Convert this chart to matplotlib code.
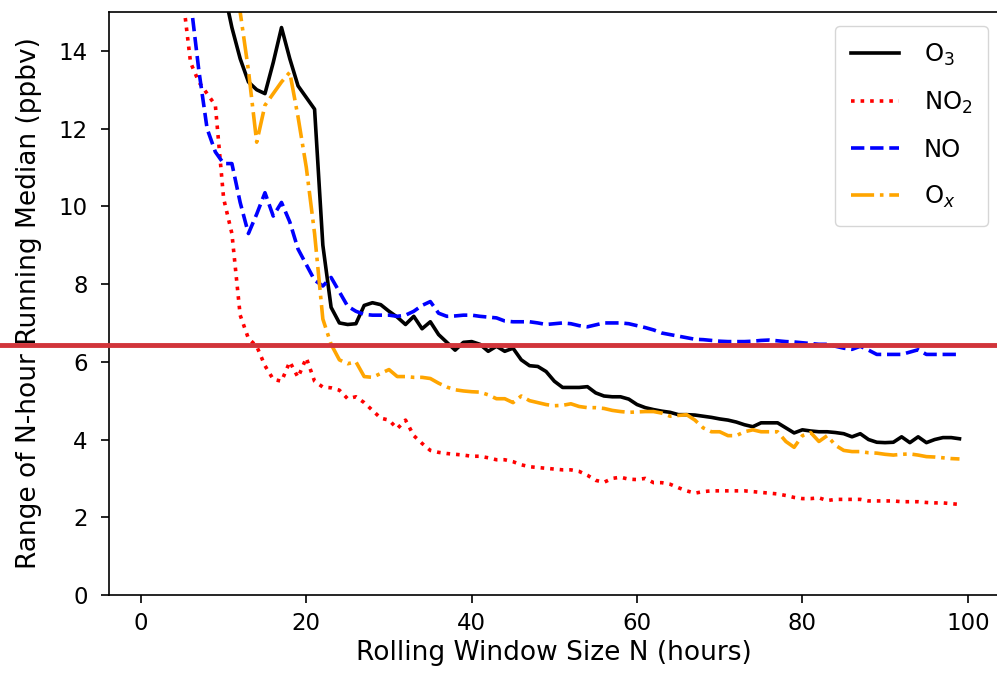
import matplotlib.pyplot as plt
from matplotlib.lines import Line2D

# rolling window sizes (hours)
window_n = list(range(1, 100))

o3 = [60, 45, 35, 28, 24, 21, 19, 17.5, 16.5, 15.6,
      14.6, 13.8, 13.2, 13.0, 12.9, 13.7, 14.6, 13.8, 13.1, 12.8,
      12.5, 9.0, 7.4, 7.0, 6.96, 6.98, 7.45, 7.52, 7.47, 7.3,
      7.15, 6.96, 7.17, 6.85, 7.03, 6.7, 6.5, 6.3, 6.5, 6.52,
      6.45, 6.27, 6.4, 6.27, 6.35, 6.05, 5.9, 5.88, 5.75, 5.5,
      5.34, 5.34, 5.34, 5.36, 5.2, 5.12, 5.1, 5.1, 5.04, 4.9,
      4.82, 4.77, 4.73, 4.7, 4.64, 4.64, 4.63, 4.6, 4.57, 4.53,
      4.5, 4.45, 4.38, 4.33, 4.43, 4.43, 4.43, 4.3, 4.17, 4.25,
      4.22, 4.2, 4.2, 4.18, 4.15, 4.07, 4.15, 4.0, 3.93, 3.92,
      3.93, 4.07, 3.92, 4.07, 3.92, 4.0, 4.05, 4.05, 4.02]

no2 = [40, 28, 21, 17.5, 15.5, 13.7, 13.2, 12.9, 12.6, 10.2,
       9.3, 7.2, 6.6, 6.4, 5.9, 5.55, 5.5, 6.0, 5.6, 6.1,
       5.5, 5.35, 5.33, 5.27, 5.05, 5.1, 4.95, 4.75, 4.55, 4.5,
       4.28, 4.5, 4.1, 3.9, 3.72, 3.67, 3.64, 3.62, 3.6, 3.57,
       3.57, 3.53, 3.48, 3.48, 3.43, 3.35, 3.3, 3.28, 3.26, 3.24,
       3.22, 3.22, 3.18, 3.08, 2.95, 2.9, 3.0, 3.03, 2.98, 2.97,
       3.0, 2.89, 2.89, 2.85, 2.76, 2.68, 2.62, 2.66, 2.68, 2.68,
       2.68, 2.68, 2.68, 2.66, 2.64, 2.62, 2.6, 2.56, 2.51, 2.48,
       2.48, 2.5, 2.43, 2.46, 2.46, 2.46, 2.46, 2.42, 2.42, 2.42,
       2.42, 2.4, 2.4, 2.4, 2.38, 2.37, 2.37, 2.35, 2.33]

no = [35, 27, 21, 18, 16.2, 15.3, 13.5, 12.0, 11.4, 11.1,
      11.1, 10.1, 9.3, 9.8, 10.35, 9.75, 10.1, 9.6, 8.9, 8.5,
      8.1, 7.95, 8.17, 7.8, 7.43, 7.3, 7.22, 7.2, 7.2, 7.2,
      7.17, 7.2, 7.3, 7.45, 7.55, 7.25, 7.17, 7.18, 7.2, 7.2,
      7.17, 7.15, 7.13, 7.05, 7.03, 7.03, 7.03, 7.0, 6.96, 6.98,
      7.0, 6.98, 6.93, 6.9, 6.95, 7.0, 7.0, 7.0, 6.98, 6.93,
      6.88, 6.82, 6.74, 6.7, 6.66, 6.62, 6.58, 6.57, 6.55, 6.53,
      6.52, 6.52, 6.52, 6.53, 6.55, 6.56, 6.54, 6.52, 6.51, 6.49,
      6.47, 6.45, 6.45, 6.4, 6.35, 6.32, 6.4, 6.3, 6.19, 6.19,
      6.19, 6.19, 6.25, 6.31, 6.19, 6.19, 6.19, 6.19, 6.19]

ox = [60, 45, 35, 29, 25, 22, 20, 18.5, 17.3, 16.3,
      15.6, 15.0, 13.5, 11.65, 12.6, 12.9, 13.2, 13.45, 12.3, 11.0,
      9.3, 7.1, 6.45, 6.05, 5.95, 6.0, 5.62, 5.6, 5.7, 5.8,
      5.62, 5.62, 5.6, 5.6, 5.57, 5.45, 5.35, 5.28, 5.25, 5.23,
      5.22, 5.15, 5.05, 5.05, 4.95, 5.12, 5.0, 4.95, 4.9, 4.87,
      4.88, 4.92, 4.85, 4.82, 4.82, 4.8, 4.75, 4.72, 4.7, 4.71,
      4.72, 4.72, 4.68, 4.6, 4.62, 4.64, 4.5, 4.3, 4.2, 4.2,
      4.1, 4.1, 4.2, 4.25, 4.2, 4.2, 4.2, 3.95, 3.8, 4.1,
      4.18, 3.95, 4.1, 3.85, 3.72, 3.69, 3.69, 3.66, 3.65, 3.62,
      3.6, 3.62, 3.63, 3.6, 3.56, 3.55, 3.53, 3.51, 3.5]

TICK_FS = 16.5
LABEL_FS = 19

fig = plt.figure(figsize=(9.97, 6.79), dpi=100)
ax = fig.add_axes([108.7 / 997, 1 - 595 / 679, (1000 - 108.7) / 997, 583 / 679])

lw = 2.6
ax.plot(window_n, o3, color='black', linestyle='-', lw=lw, label='O$_3$')
ax.plot(window_n, no2, color='red', linestyle=':', lw=lw, label='NO$_2$')
ax.plot(window_n, no, color='blue', linestyle='--', lw=lw, label='NO')
ax.plot(window_n, ox, color='orange', linestyle='-.', lw=lw, label='O$_x$')

ax.set_xlim(-3.9, 103.9)
ax.set_ylim(0, 15)
ax.set_xticks([0, 20, 40, 60, 80, 100])
ax.set_yticks([0, 2, 4, 6, 8, 10, 12, 14])
ax.tick_params(labelsize=TICK_FS, length=6, width=1.2)
ax.tick_params(axis='y', pad=9)
ax.tick_params(axis='x', pad=6)
for s in ax.spines.values():
    s.set_linewidth(1.2)

ax.set_xlabel('Rolling Window Size N (hours)', fontsize=LABEL_FS, labelpad=4)
ax.set_ylabel('Range of N-hour Running Median (ppbv)', fontsize=LABEL_FS, labelpad=12)

leg = ax.legend(loc='upper right', bbox_to_anchor=(0.9865, 0.976), borderaxespad=0,
                fontsize=17.5, handlelength=2.0, labelspacing=0.9, borderpad=0.65,
                handletextpad=1.0)

# red marker line across the whole picture
fig.add_artist(Line2D([0, 1], [1 - 345 / 679, 1 - 345 / 679], transform=fig.transFigure,
                      color='#d1343a', lw=3.5))

fig.savefig('out.png', dpi=100)
